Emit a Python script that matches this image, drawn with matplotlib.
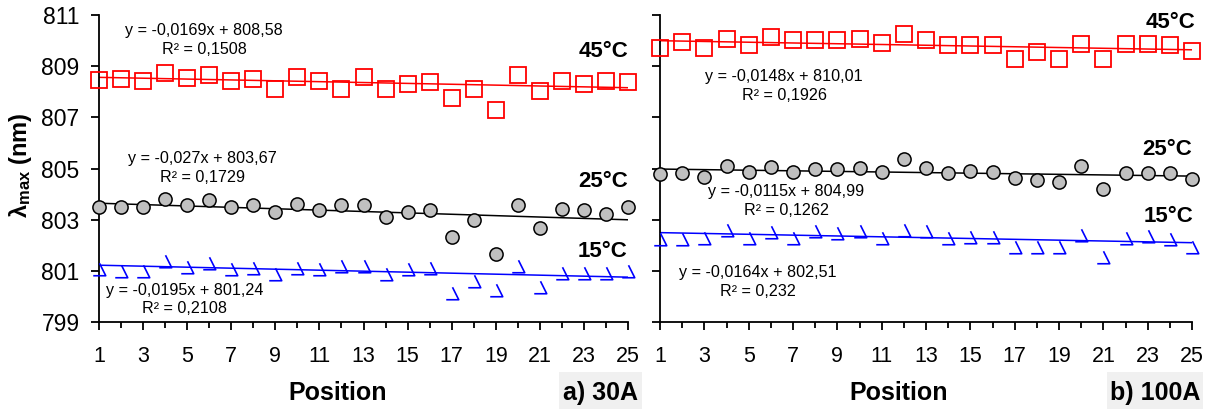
import matplotlib.pyplot as plt
import numpy as np
from matplotlib.path import Path
from matplotlib.patches import Rectangle

plt.rcParams['font.family'] = ['Liberation Sans', 'DejaVu Sans']
plt.rcParams['mathtext.fontset'] = 'custom'
plt.rcParams['mathtext.rm'] = 'Liberation Sans'
plt.rcParams['mathtext.bf'] = 'Liberation Sans:bold'

position = np.arange(1, 26)

# a) 30A
a_45 = [808.46, 808.50, 808.42, 808.74, 808.55, 808.67, 808.42, 808.50, 808.10, 808.58,
        808.41, 808.10, 808.56, 808.12, 808.29, 808.39, 807.77, 808.10, 807.29, 808.67,
        808.03, 808.43, 808.29, 808.43, 808.39]
a_25 = [803.48, 803.48, 803.48, 803.81, 803.57, 803.77, 803.48, 803.58, 803.30, 803.61,
        803.38, 803.57, 803.58, 803.11, 803.29, 803.36, 802.33, 802.99, 801.64, 803.57,
        802.66, 803.42, 803.38, 803.22, 803.48]
a_15 = [801.06, 800.99, 800.99, 801.39, 801.14, 801.29, 801.06, 801.13, 800.89, 801.13,
        801.06, 801.19, 801.17, 800.87, 801.06, 801.13, 800.12, 800.62, 800.25, 801.17,
        800.35, 800.93, 800.90, 800.90, 800.99]

# b) 100A
b_45 = [809.72, 809.96, 809.72, 810.05, 809.83, 810.13, 810.02, 810.02, 810.02, 810.05,
        809.89, 810.25, 810.02, 809.83, 809.83, 809.83, 809.28, 809.54, 809.28, 809.85,
        809.28, 809.85, 809.85, 809.83, 809.59]
b_25 = [804.78, 804.84, 804.68, 805.11, 804.85, 805.07, 804.87, 804.97, 804.97, 805.01,
        804.85, 805.36, 805.03, 804.81, 804.91, 804.87, 804.62, 804.55, 804.46, 805.10,
        804.19, 804.83, 804.83, 804.83, 804.58]
b_15 = [802.24, 802.24, 802.30, 802.59, 802.30, 802.53, 802.30, 802.56, 802.47, 802.56,
        802.30, 802.59, 802.56, 802.27, 802.33, 802.33, 801.95, 801.95, 801.95, 802.41,
        801.55, 802.27, 802.37, 802.24, 801.92]

# trend lines (slope, intercept) as printed on the chart
a_slope = [-0.0169, -0.027, -0.0195]
a_icpt = [808.58, 803.67, 801.24]
a_r2 = ['0,1508', '0,1729', '0,2108']
b_slope = [-0.0148, -0.0115, -0.0164]
b_icpt = [810.01, 804.99, 802.51]
b_r2 = ['0,1926', '0,1262', '0,232']

W, H = 1210, 409
fig = plt.figure(figsize=(W / 100, H / 100), dpi=100)

def px(x, y):
    return x / W, 1 - y / H

# open triangle (left side missing), like the reference
tri = Path([(0, 1), (1, -1), (-1, -1)], [Path.MOVETO, Path.LINETO, Path.LINETO])

def eq_text(slope, icpt):
    s = ('%g' % slope).replace('.', ',')
    i = ('%.2f' % icpt).replace('.', ',')
    return 'y = %sx + %s' % (s, i)

def panel(rect, ys, slopes, icpts, show_labels):
    ax = fig.add_axes(rect)
    styles = [dict(marker='s', ms=11, mfc='none', mec='#ff0000', mew=1.3, color='#ff0000'),
              dict(marker='o', ms=9.5, mfc='#c0c0c0', mec='black', mew=1.1, color='black'),
              dict(marker=tri, ms=9, mfc='none', mec='#0000ff', mew=1.2, color='#0000ff')]
    for y, sl, ic, st in zip(ys, slopes, icpts, styles):
        ax.plot(position, y, ls='none', marker=st['marker'], ms=st['ms'], mfc=st['mfc'],
                mec=st['mec'], mew=st['mew'], clip_on=False, zorder=3)
        ax.plot(position, sl * position + ic, color=st['color'], lw=1.1, zorder=2)
    ax.set_xlim(1, 25)
    ax.set_ylim(799, 811)
    ax.set_xticks(np.arange(1, 26, 2))
    ax.set_xticks(np.arange(2, 25, 2), minor=True)
    ax.set_yticks(np.arange(799, 812, 2))
    ax.spines['top'].set_visible(False)
    ax.spines['right'].set_visible(False)
    for s in ['left', 'bottom']:
        ax.spines[s].set_linewidth(1.3)
    ax.tick_params(axis='x', which='major', length=6, width=1.3, labelsize=15.5, pad=11)
    ax.tick_params(axis='x', which='minor', length=4, width=1.3)
    ax.tick_params(axis='y', length=6, width=1.3, labelsize=16.5, pad=8,
                   labelleft=show_labels)
    return ax

panel([99 / W, 1 - 322 / H, 529 / W, 307 / H], [a_45, a_25, a_15], a_slope, a_icpt, True)
panel([660 / W, 1 - 322 / H, 532 / W, 307 / H], [b_45, b_25, b_15], b_slope, b_icpt, False)

# equation labels (centre x, centre y of first line, in pixels)
a_eq_pos = [(204, 31), (202, 159), (185, 290)]
b_eq_pos = [(784, 77), (786, 192), (758, 273)]
for slopes, icpts, r2s, pos in [(a_slope, a_icpt, a_r2, a_eq_pos), (b_slope, b_icpt, b_r2, b_eq_pos)]:
    for sl, ic, r2, (x, y) in zip(slopes, icpts, r2s, pos):
        fig.text(*px(x, y), eq_text(sl, ic), ha='center', va='center', fontsize=11.6)
        fig.text(*px(x, y + 18.5), 'R² = ' + r2, ha='center', va='center', fontsize=11.6)

# temperature labels (right x, baseline y)
temps = ['45°C', '25°C', '15°C']
for (x, y), t in zip([(628, 57), (628, 187), (627, 257)], temps):
    fig.text(*px(x, y), t, ha='right', va='baseline', fontsize=16, fontweight='bold')
for (x, y), t in zip([(1195, 28), (1192, 155), (1193, 222)], temps):
    fig.text(*px(x, y), t, ha='right', va='baseline', fontsize=16, fontweight='bold')

# axis titles
fig.text(*px(338, 400), 'Position', ha='center', va='baseline', fontsize=18, fontweight='bold')
fig.text(*px(899, 400), 'Position', ha='center', va='baseline', fontsize=18, fontweight='bold')
fig.text(*px(20, 165), r'$\mathbf{λ_{max}}$ (nm)', rotation=90, ha='center', va='center',
         fontsize=17, fontweight='bold')

# panel tags with light grey background
for (x0, x1), tag in [((559, 642), 'a) 30A'), ((1107, 1203), 'b) 100A')]:
    fig.patches.append(Rectangle(px(x0, 409), (x1 - x0) / W, 37 / H, transform=fig.transFigure,
                                 facecolor='#f0f0f0', edgecolor='none', zorder=0))
    fig.text(*px((x0 + x1) / 2, 400), tag, ha='center', va='baseline', fontsize=18,
             fontweight='bold')

fig.savefig('out.png', dpi=100)
